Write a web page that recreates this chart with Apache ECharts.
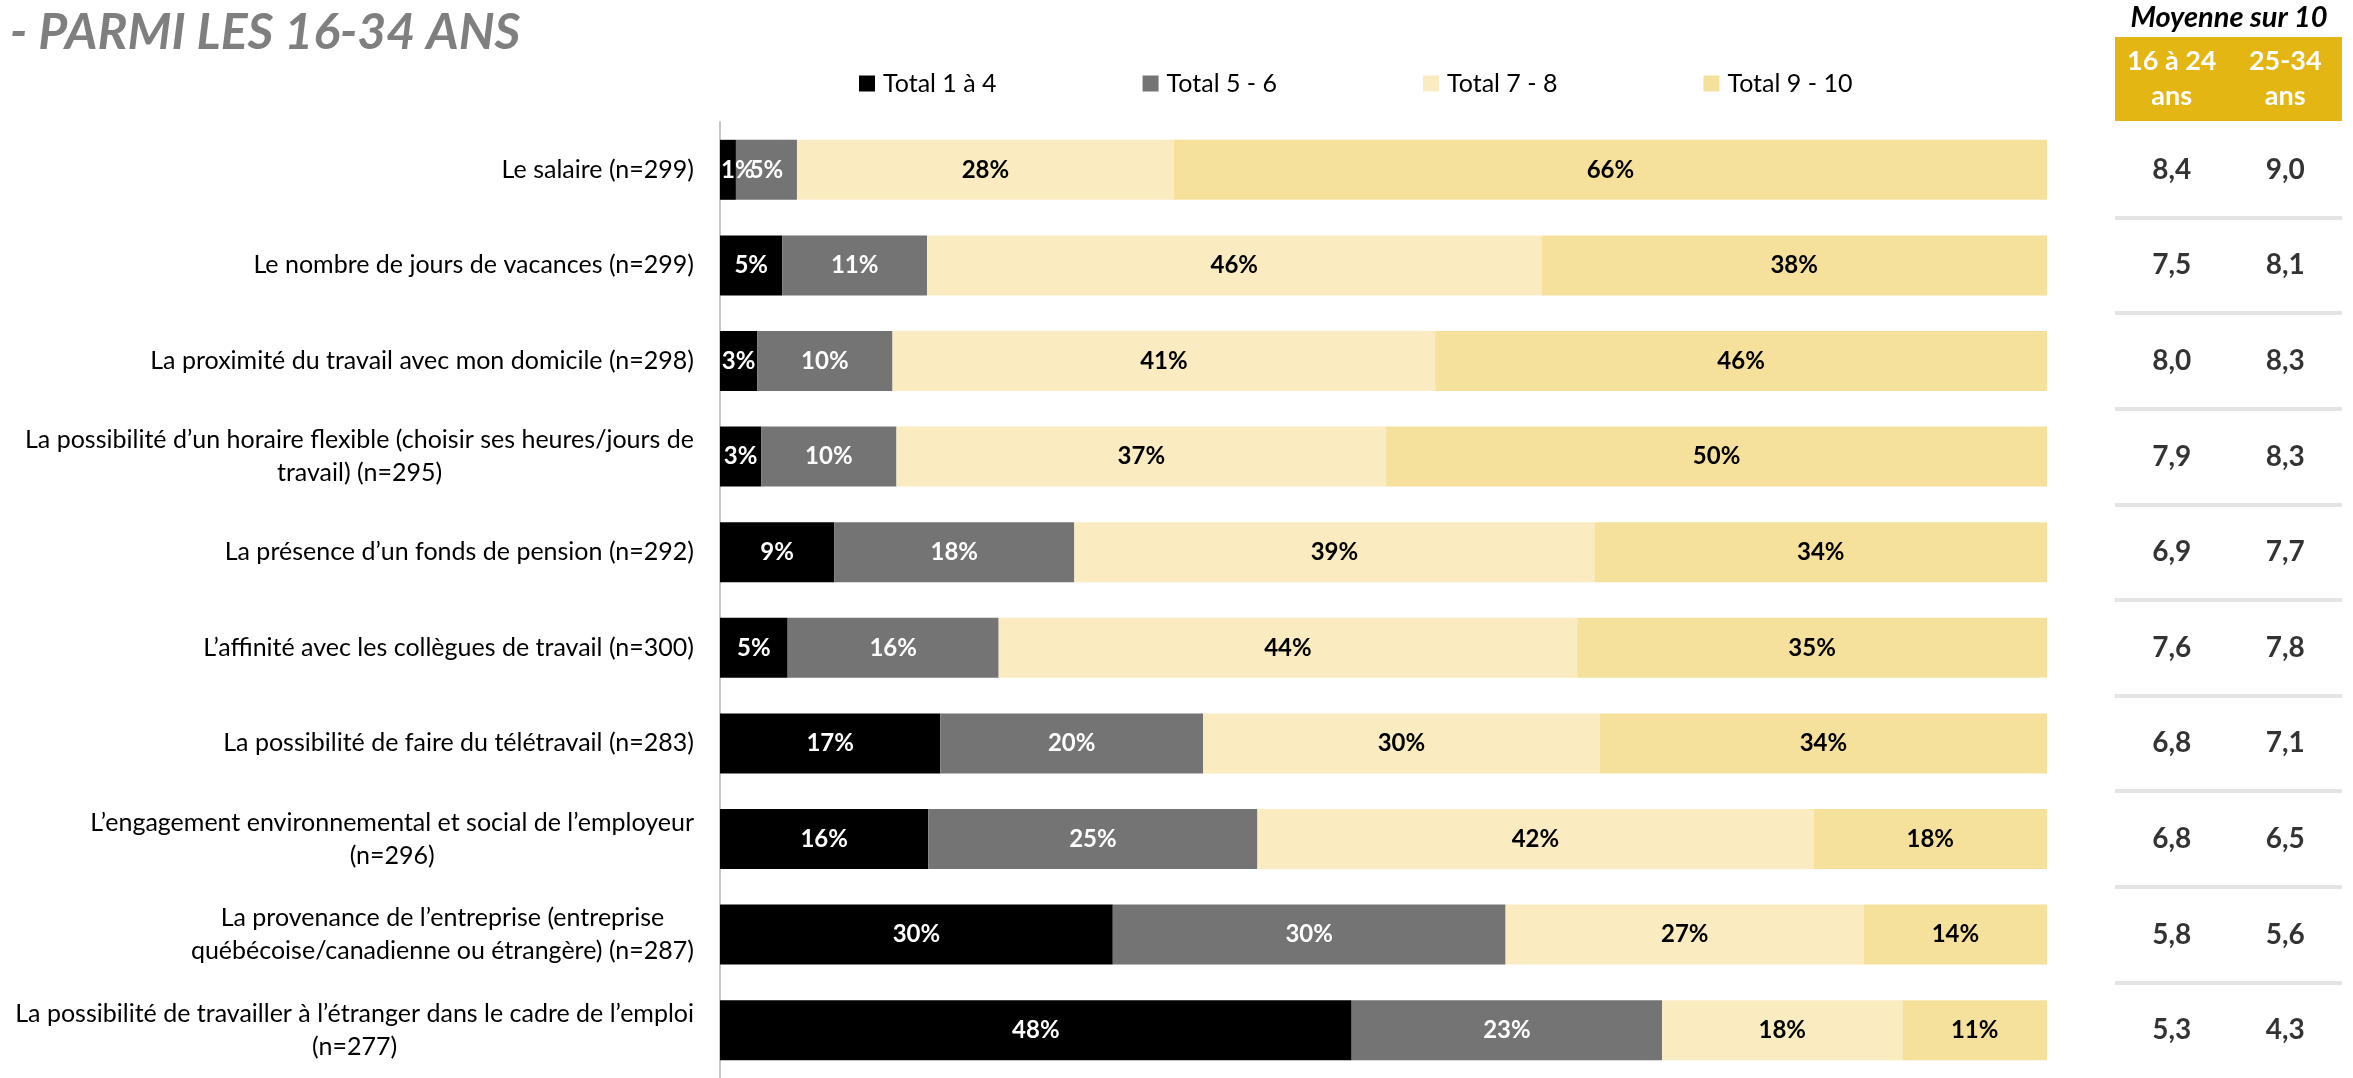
<!DOCTYPE html>
<html>
<head>
<meta charset="utf-8">
<title>Parmi les 16-34 ans</title>
<script src="https://cdn.jsdelivr.net/npm/echarts@6/dist/echarts.min.js"></script>
<style>
    html, body { margin: 0; padding: 0; background: #fff; }
    #content { width: 2353px; height: 1078px; }
</style>
</head>
<body>
<div id="content"></div>
<script>
// critères (dans l'ordre du haut vers le bas)
var categories = [
    "Le salaire (n=299)",
    "Le nombre de jours de vacances (n=299)",
    "La proximité du travail avec mon domicile (n=298)",
    "La possibilité d’un horaire flexible (choisir ses heures/jours de\ntravail) (n=295)",
    "La présence d’un fonds de pension (n=292)",
    "L’affinité avec les collègues de travail (n=300)",
    "La possibilité de faire du télétravail (n=283)",
    "L’engagement environnemental et social de l’employeur\n(n=296)",
    "La provenance de l’entreprise (entreprise\nquébécoise/canadienne ou étrangère) (n=287)",
    "La possibilité de travailler à l’étranger dans le cadre de l’emploi\n(n=277)"
];

var seriesNames = ["Total 1 à 4", "Total 5 - 6", "Total 7 - 8", "Total 9 - 10"];

// pourcentages (estimés sur le graphique, étiquettes arrondies)
var total14 = [1.2, 4.7, 2.8, 3.1, 8.6, 5.1, 16.6, 15.7, 29.6, 47.6];
var total56 = [4.6, 10.9, 10.2, 10.2, 18.1, 15.9, 19.8, 24.8, 29.6, 23.4];
var total78 = [28.4, 46.3, 40.9, 36.9, 39.2, 43.6, 29.9, 41.9, 27.0, 18.1];
var total910 = [65.8, 38.1, 46.1, 49.8, 34.1, 35.4, 33.7, 17.6, 13.8, 10.9];

// moyenne sur 10
var ageGroups = ["16 à 24 ans", "25-34 ans"];
var mean1624 = [8.4, 7.5, 8.0, 7.9, 6.9, 7.6, 6.8, 6.8, 5.8, 5.3];
var mean2534 = [9.0, 8.1, 8.3, 8.3, 7.7, 7.8, 7.1, 6.5, 5.6, 4.3];

var colors = ["#000000", "#747474", "#FAEBC0", "#F5E09C"];
var labelColors = ["#ffffff", "#ffffff", "#000000", "#000000"];
var font = "Lato, 'Open Sans', sans-serif";

var myChart = echarts.init(document.getElementById("content"));

function barSeries(idx, values) {
    return {
        name: seriesNames[idx],
        type: "bar",
        stack: "total",
        xAxisIndex: 0,
        yAxisIndex: 0,
        barWidth: 60,
        data: values,
        itemStyle: { color: colors[idx] },
        label: {
            show: true,
            position: "inside",
            color: labelColors[idx],
            fontFamily: font,
            fontWeight: "bold",
            fontSize: 24,
            formatter: function(p) {
                return Math.round(p.value) + "%";
            }
        },
        // une étiquette trop large ne doit pas sortir à gauche de la barre
        labelLayout: function(p) {
            var over = p.rect.x - p.labelRect.x;
            return over > 0 ? { dx: over + 1 } : {};
        }
    };
}

// colonne de moyennes (scatter invisible, seule l'étiquette reste)
function meanSeries(col, values) {
    return {
        type: "scatter",
        xAxisIndex: 1,
        yAxisIndex: 1,
        symbolSize: 1,
        itemStyle: { color: "transparent" },
        data: values.map(function(v, i) { return [col, i, v]; }),
        label: {
            show: true,
            position: "inside",
            color: "#000",
            fontFamily: font,
            fontWeight: "bold",
            fontSize: 28,
            formatter: function(p) {
                return p.value[2].toFixed(1).replace(".", ",");
            }
        },
        silent: true
    };
}

myChart.setOption({
    animation: false,
    title: [{
        text: "- PARMI LES 16-34 ANS",
        left: 10,
        top: 8,
        padding: 0,
        textStyle: {
            color: "#7f7f7f",
            fontFamily: font,
            fontStyle: "italic",
            fontWeight: "bold",
            fontSize: 50
        }
    }, {
        text: "Moyenne sur 10",
        left: 2229,
        top: 3,
        padding: 0,
        textAlign: "center",
        textStyle: {
            color: "#000",
            fontFamily: font,
            fontStyle: "italic",
            fontWeight: "bold",
            fontSize: 29
        }
    }],
    legend: {
        data: seriesNames,
        left: 859,
        top: 71,
        padding: 0,
        itemWidth: 16,
        itemHeight: 16,
        itemGap: 146,
        icon: "rect",
        textStyle: {
            color: "#000",
            fontFamily: font,
            fontSize: 25,
            width: 120,
            padding: [0, 0, 0, 3]
        }
    },
    graphic: [{
        type: "rect",
        left: 2115,
        top: 37,
        z: -1,
        shape: { width: 227, height: 84 },
        style: { fill: "#E4B614" }
    }],
    grid: [
        { left: 720, right: 306, top: 122, bottom: -8 },
        { left: 2115, right: 11, top: 122, bottom: -8 }
    ],
    xAxis: [{
        type: "value",
        gridIndex: 0,
        min: 0,
        max: 100,
        show: false
    }, {
        type: "category",
        gridIndex: 1,
        position: "top",
        data: ageGroups,
        z: 5,
        axisLine: { show: false },
        axisTick: { show: false },
        splitLine: { show: false },
        axisLabel: {
            interval: 0,
            margin: 8,
            color: "#fff",
            fontFamily: font,
            fontWeight: "bold",
            fontSize: 27,
            lineHeight: 35,
            formatter: function(v) {
                var i = v.lastIndexOf(" ");
                return v.substring(0, i) + "\n" + v.substring(i + 1);
            }
        }
    }],
    yAxis: [{
        type: "category",
        gridIndex: 0,
        inverse: true,
        data: categories,
        axisTick: { show: false },
        axisLine: { show: true, lineStyle: { color: "#c6c6c6", width: 2 } },
        axisLabel: {
            interval: 0,
            margin: 26,
            formatter: function(v) {
                return v.split("\n").map(function(l) { return "{c|" + l + "}"; }).join("\n");
            },
            rich: {
                c: {
                    align: "center",
                    color: "#000",
                    fontFamily: font,
                    fontSize: 25,
                    lineHeight: 33
                }
            }
        }
    }, {
        type: "category",
        gridIndex: 1,
        inverse: true,
        data: categories,
        axisTick: { show: false },
        axisLine: { show: false },
        axisLabel: { show: false },
        splitLine: {
            show: true,
            showMinLine: false,
            showMaxLine: false,
            lineStyle: { color: "#e4e4e4", width: 4 }
        }
    }],
    series: [
        barSeries(0, total14),
        barSeries(1, total56),
        barSeries(2, total78),
        barSeries(3, total910),
        meanSeries(0, mean1624),
        meanSeries(1, mean2534)
    ]
});
</script>
</body>
</html>
